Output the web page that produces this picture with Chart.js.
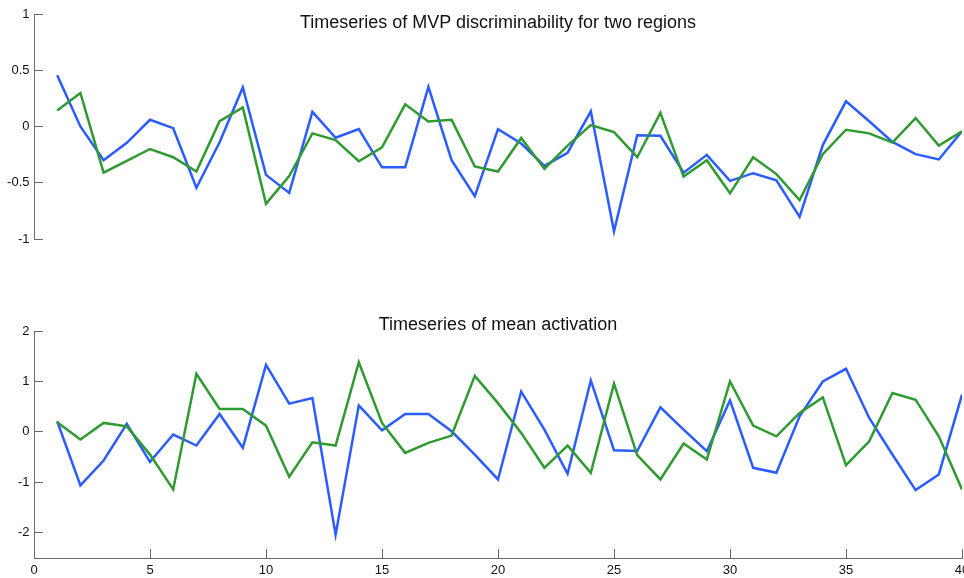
<!DOCTYPE html>
<html>
<head>
<meta charset="utf-8">
<script src="https://cdn.jsdelivr.net/npm/chart.js@4"></script>
<style>
  body { margin:0; background:#fff; }
  .wrap { position:absolute; left:0; width:964px; }
  .title { position:absolute; left:34px; width:928px; text-align:center;
           font:18px "Liberation Sans", Arial, Helvetica, sans-serif; line-height:18px; color:#111; }
</style>
</head>
<body>
<div class="wrap" style="top:0;height:280px"><canvas id="top" width="964" height="280"></canvas></div>
<div class="wrap" style="top:300px;height:278px"><canvas id="bottom" width="964" height="278"></canvas></div>
<div class="title" style="top:13px">Timeseries of MVP discriminability for two regions</div>
<div class="title" style="top:315px">Timeseries of mean activation</div>
<script>
// --- data --- //
const timepoints = [1,2,3,4,5,6,7,8,9,10,11,12,13,14,15,16,17,18,19,20,21,22,23,24,25,26,27,28,29,30,31,32,33,34,35,36,37,38,39,40];

const mvpBlue = [0.455, 0.0, -0.30, -0.145, 0.06, -0.015, -0.545, -0.14, 0.347, -0.43, -0.59, 0.13, -0.1, -0.023, -0.363, -0.363, 0.353, -0.30, -0.62, -0.023, -0.151, -0.35, -0.233, 0.135, -0.932, -0.078, -0.083, -0.41, -0.252, -0.483, -0.415, -0.478, -0.804, -0.165, 0.224, 0.047, -0.137, -0.246, -0.293, -0.042];
const mvpGreen = [0.143, 0.298, -0.41, -0.306, -0.2, -0.273, -0.40, 0.047, 0.17, -0.687, -0.44, -0.061, -0.12, -0.309, -0.186, 0.197, 0.045, 0.059, -0.355, -0.40, -0.102, -0.377, -0.17, 0.012, -0.05, -0.273, 0.121, -0.445, -0.30, -0.594, -0.273, -0.423, -0.654, -0.246, -0.029, -0.061, -0.143, 0.075, -0.17, -0.042];

const actBlue = [0.21, -1.06, -0.567, 0.158, -0.593, -0.053, -0.27, 0.356, -0.316, 1.33, 0.559, 0.672, -2.04, 0.526, 0.032, 0.356, 0.356, 0.012, -0.449, -0.943, 0.80, 0.045, -0.83, 1.02, -0.363, -0.38, 0.487, 0.045, -0.383, 0.625, -0.712, -0.81, 0.31, 1.0, 1.25, 0.277, -0.449, -1.154, -0.844, 0.737];
const actGreen = [0.19, -0.152, 0.178, 0.11, -0.45, -1.14, 1.152, 0.454, 0.454, 0.124, -0.89, -0.205, -0.27, 1.38, 0.178, -0.416, -0.218, -0.073, 1.11, 0.57, -0.02, -0.712, -0.27, -0.81, 0.955, -0.46, -0.943, -0.231, -0.547, 1.0, 0.124, -0.087, 0.375, 0.684, -0.66, -0.186, 0.77, 0.638, -0.087, -1.14];

const xTicks = [0,5,10,15,20,25,30,35,40];
const mvpYTicks = [-1,-0.5,0,0.5,1];
const actYTicks = [-2,-1,0,1,2];

// --- styling --- //
const BLUE = "#2b5cff", GREEN = "#2e9a30", AXIS = "#6a6a6a";
const tickFont = {family:"'Liberation Sans', Arial, Helvetica, sans-serif", size:13};

function pts(ys){ return timepoints.map((t,i)=>({x:t,y:ys[i]})); }
function series(ys,color,order){
  return {data:pts(ys),borderColor:color,borderWidth:2.5,pointRadius:0,tension:0,fill:false,order:order};
}
function fixedTicks(list){ return s=>{ s.ticks = list.map(v=>({value:v})); }; }
function axisGrid(){ return {drawOnChartArea:false,drawTicks:true,tickLength:-9,color:AXIS,tickWidth:1}; }

function yAxis(min,max,list){
  return {
    min:min,max:max,
    afterBuildTicks:fixedTicks(list),
    afterFit:s=>{ s.width=34; s.paddingTop=0; s.paddingBottom=0; },
    grid:axisGrid(),
    border:{display:true,color:AXIS,width:1},
    ticks:{font:tickFont,color:"#111",padding:13.5,callback:v=>String(v)}
  };
}

function makeChart(id,blue,green,yScale,showX,pad){
  return new Chart(document.getElementById(id),{
    type:"line",
    data:{datasets:[series(blue,BLUE,2),series(green,GREEN,1)]},
    options:{
      responsive:false,animation:false,devicePixelRatio:1,
      layout:{padding:pad},
      plugins:{legend:{display:false},tooltip:{enabled:false}},
      scales:{
        x:{
          type:"linear",min:0,max:40,display:showX,
          afterBuildTicks:fixedTicks(xTicks),
          afterFit:s=>{ s.height=20; s.paddingLeft=0; s.paddingRight=0; },
          grid:axisGrid(),
          border:{display:true,color:AXIS,width:1},
          ticks:{font:tickFont,color:"#111",padding:14,maxRotation:0,callback:v=>String(v)}
        },
        y:yScale
      }
    }
  });
}

makeChart("top",mvpBlue,mvpGreen,yAxis(-1,1,mvpYTicks),false,{top:14,bottom:21,left:0,right:2});
makeChart("bottom",actBlue,actGreen,yAxis(-2.5,2,actYTicks),true,{top:31,bottom:0,left:0,right:2});
</script>
</body>
</html>
